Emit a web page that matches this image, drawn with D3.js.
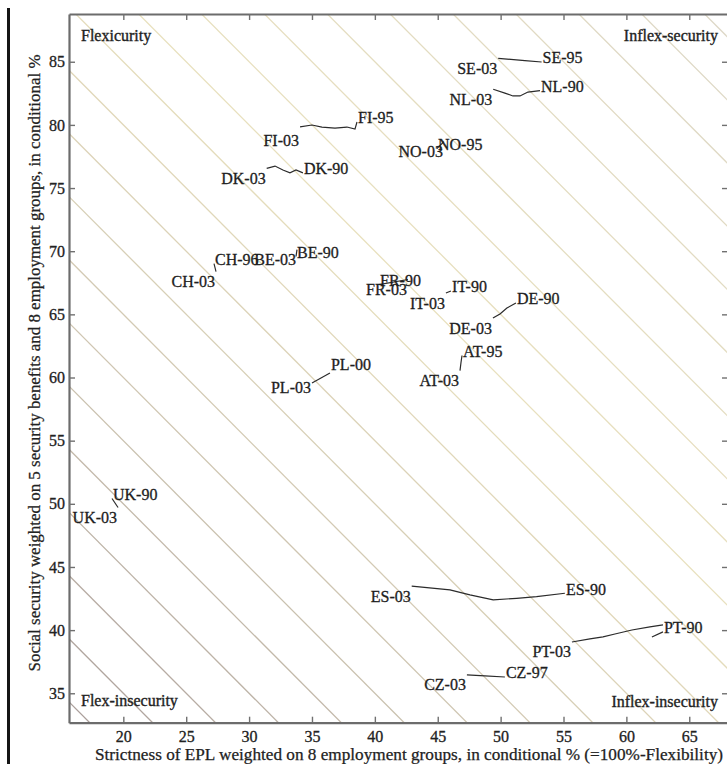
<!DOCTYPE html>
<html>
<head>
<meta charset="utf-8">
<script src="https://cdn.jsdelivr.net/npm/d3@7"></script>
<style>
  body { margin: 0; background: #fff; }
  text { font-family: "Liberation Serif", "Times New Roman", serif; }
</style>
</head>
<body>
<svg id="chart" width="727" height="764"></svg>
<script>
// axis ticks
var xTicks = [20, 25, 30, 35, 40, 45, 50, 55, 60, 65];
var yTicks = [35, 40, 45, 50, 55, 60, 65, 70, 75, 80, 85];

// diagonal iso-lines, EPL + security = level
var isoLevels = [50, 55, 60, 65, 70, 75, 80, 85, 90, 95, 100, 105, 110,
  115, 120, 125, 130, 135, 140, 145, 150, 155];

// country trajectories [EPL, security], from 2003 back to the first year
var countries = ["SE", "NL", "FI", "NO", "DK", "BE", "CH", "FR", "IT", "DE", "AT",
  "PL", "UK", "ES", "PT", "CZ"];
var firstYears = ["95", "90", "95", "95", "90", "90", "96", "90", "90", "90", "95",
  "00", "90", "90", "90", "97"];

var trackSE = [[49.81, 85.27], [51.93, 85.09], [53.26, 84.98]];
var trackNL = [[49.41, 82.82], [50.34, 82.52], [50.98, 82.29], [51.54, 82.29],
  [52.17, 82.6], [53.13, 82.72]];
var trackFI = [[34.05, 79.85], [35.0, 79.99], [35.79, 79.83], [36.83, 79.75],
  [37.78, 79.83], [38.42, 79.67], [38.58, 80.23]];
var trackNO = [[45.49, 78.68], [44.94, 78.13]];
var trackDK = [[31.4, 76.56], [32.06, 76.74], [32.69, 76.43], [33.25, 76.2],
  [33.73, 76.43], [34.28, 76.2]];
var trackBE = [[33.81, 70.13], [33.73, 69.58]];
var trackCH = [[27.37, 68.39], [27.21, 69.02]];
var trackFR = [[42.63, 67.76], [40.33, 67.36]];
var trackIT = [[45.65, 66.69], [46.05, 66.85]];
var trackDE = [[49.39, 64.71], [49.95, 65.03], [50.5, 65.5], [51.22, 65.9]];
var trackAT = [[46.77, 60.55], [46.85, 61.19], [46.93, 61.74]];
var trackPL = [[35.0, 59.56], [36.43, 60.36]];
var trackUK = [[19.58, 49.71], [19.1, 50.42]];
var trackES = [[42.93, 43.49], [45.97, 43.18], [47.56, 42.79], [49.41, 42.39],
  [51.27, 42.52], [52.86, 42.65], [55.11, 42.92]];
var trackPT = [[55.67, 39.06], [57.1, 39.3], [58.14, 39.46], [59.09, 39.69],
  [60.44, 40.01], [61.87, 40.25], [62.91, 40.41], null, [62.03, 39.46], [62.91, 39.86]];
var trackCZ = [[47.32, 36.45], [48.75, 36.37], [50.34, 36.29]];

var tracks = [trackSE, trackNL, trackFI, trackNO, trackDK, trackBE, trackCH, trackFR,
  trackIT, trackDE, trackAT, trackPL, trackUK, trackES, trackPT, trackCZ];

var cornerLabels = ["Flexicurity", "Inflex-security", "Flex-insecurity", "Inflex-insecurity"];

// small hand nudges for labels that sit off the usual spot (px)
var labelShift = { "FI-03": [0, 4], "PL-00": [0, -4], "PL-03": [0, -6] };

var W = 727, H = 764,
  plot = { left: 69, right: 728, top: 14, bottom: 722.7 };

var svg = d3.select("#chart");

svg.append("rect").attr("width", W).attr("height", H).attr("fill", "#fff");

// edge of the scanned page
svg.append("rect")
  .attr("x", 7).attr("y", 8).attr("width", 3).attr("height", H - 8)
  .attr("fill", "#151515");

var x = d3.scaleLinear().domain([15.68, 68.08]).range([plot.left, plot.right]),
  y = d3.scaleLinear().domain([32.67, 88.78]).range([plot.bottom, plot.top]);

svg.append("clipPath").attr("id", "plotClip")
  .append("rect")
  .attr("x", plot.left).attr("y", plot.top)
  .attr("width", plot.right - plot.left).attr("height", plot.bottom - plot.top);

var isoColour = d3.scaleLinear()
  .domain([50, 80, 110, 155])
  .range(["#ab9f9b", "#cfc6b2", "#e8e0bd", "#ddd7c6"]);

var xMin = x.domain()[0], xMax = x.domain()[1];

svg.append("g")
  .attr("clip-path", "url(#plotClip)")
  .selectAll("line")
  .data(isoLevels)
  .join("line")
  .attr("x1", x(xMin))
  .attr("y1", function (c) { return y(c - xMin); })
  .attr("x2", x(xMax))
  .attr("y2", function (c) { return y(c - xMax); })
  .attr("stroke", function (c) { return isoColour(c); })
  .attr("stroke-width", 1.3);

// axes, ticks pointing inwards
var styleAxis = function (g) {
  g.select(".domain").attr("stroke", "#6c6c6c").attr("stroke-width", 2.2);
  g.selectAll(".tick line").attr("stroke", "#707070").attr("stroke-width", 1.4);
  g.selectAll(".tick text")
    .attr("fill", "#222")
    .attr("stroke", "#222").attr("stroke-width", 0.3)
    .style("font-family", "'Liberation Serif', serif")
    .style("font-size", "16px");
};

svg.append("g")
  .attr("transform", "translate(0," + plot.bottom + ")")
  .call(d3.axisBottom(x).tickValues(xTicks).tickSize(-6).tickSizeOuter(0).tickPadding(8))
  .call(styleAxis);

svg.append("g")
  .attr("transform", "translate(0," + plot.top + ")")
  .call(d3.axisTop(x).tickValues(xTicks).tickSize(-6).tickSizeOuter(0).tickFormat(""))
  .call(styleAxis);

svg.append("g")
  .attr("transform", "translate(" + plot.left + ",0)")
  .call(d3.axisLeft(y).tickValues(yTicks).tickSize(-6).tickSizeOuter(0).tickPadding(4))
  .call(styleAxis);

svg.append("g")
  .attr("transform", "translate(" + plot.right + ",0)")
  .call(d3.axisRight(y).tickValues(yTicks).tickSize(-6).tickSizeOuter(0).tickFormat(""))
  .call(styleAxis);

// trajectories
var line = d3.line()
  .defined(function (d) { return d !== null; })
  .x(function (d) { return x(d[0]); })
  .y(function (d) { return y(d[1]); });

svg.append("g")
  .selectAll("path")
  .data(tracks)
  .join("path")
  .attr("d", line)
  .attr("fill", "none")
  .attr("stroke", "#2b2b2b")
  .attr("stroke-width", 1.2);

// end labels: 2003 to the lower left, first year to the upper right
var labels = [];
countries.forEach(function (c, i) {
  var t = tracks[i], first = t[0], last = t[t.length - 1];
  labels.push({ text: c + "-03", p: first, anchor: "end", dx: -1, dy: 15.5 });
  labels.push({ text: c + "-" + firstYears[i], p: last, anchor: "start", dx: 1, dy: 1.5 });
});

svg.append("g")
  .selectAll("text")
  .data(labels)
  .join("text")
  .attr("x", function (d) {
    var s = labelShift[d.text] || [0, 0];
    return x(d.p[0]) + d.dx + s[0];
  })
  .attr("y", function (d) {
    var s = labelShift[d.text] || [0, 0];
    return y(d.p[1]) + d.dy + s[1];
  })
  .attr("text-anchor", function (d) { return d.anchor; })
  .attr("fill", "#1e1e1e")
  .attr("stroke", "#1e1e1e").attr("stroke-width", 0.3)
  .style("font-size", "16px")
  .text(function (d) { return d.text; });

// quadrant names
var corners = svg.append("g")
  .attr("fill", "#222").attr("stroke", "#222").attr("stroke-width", 0.35)
  .style("font-size", "16px");
corners.append("text").attr("x", 81).attr("y", 41).text(cornerLabels[0]);
corners.append("text").attr("x", 718).attr("y", 41).attr("text-anchor", "end").text(cornerLabels[1]);
corners.append("text").attr("x", 81).attr("y", 706).text(cornerLabels[2]);
corners.append("text").attr("x", 718).attr("y", 707).attr("text-anchor", "end").text(cornerLabels[3]);

// axis titles
svg.append("text")
  .attr("x", 409).attr("y", 759.5)
  .attr("text-anchor", "middle")
  .attr("fill", "#222").attr("stroke", "#222").attr("stroke-width", 0.25)
  .attr("textLength", 628).attr("lengthAdjust", "spacingAndGlyphs")
  .style("font-size", "16px")
  .text("Strictness of EPL weighted on 8 employment groups, in conditional % (=100%-Flexibility)");

svg.append("text")
  .attr("transform", "translate(40,363) rotate(-90)")
  .attr("text-anchor", "middle")
  .attr("fill", "#222").attr("stroke", "#222").attr("stroke-width", 0.25)
  .attr("textLength", 617).attr("lengthAdjust", "spacingAndGlyphs")
  .style("font-size", "16px")
  .text("Social security weighted on 5 security benefits and 8 employment groups, in conditional %");
</script>
</body>
</html>
